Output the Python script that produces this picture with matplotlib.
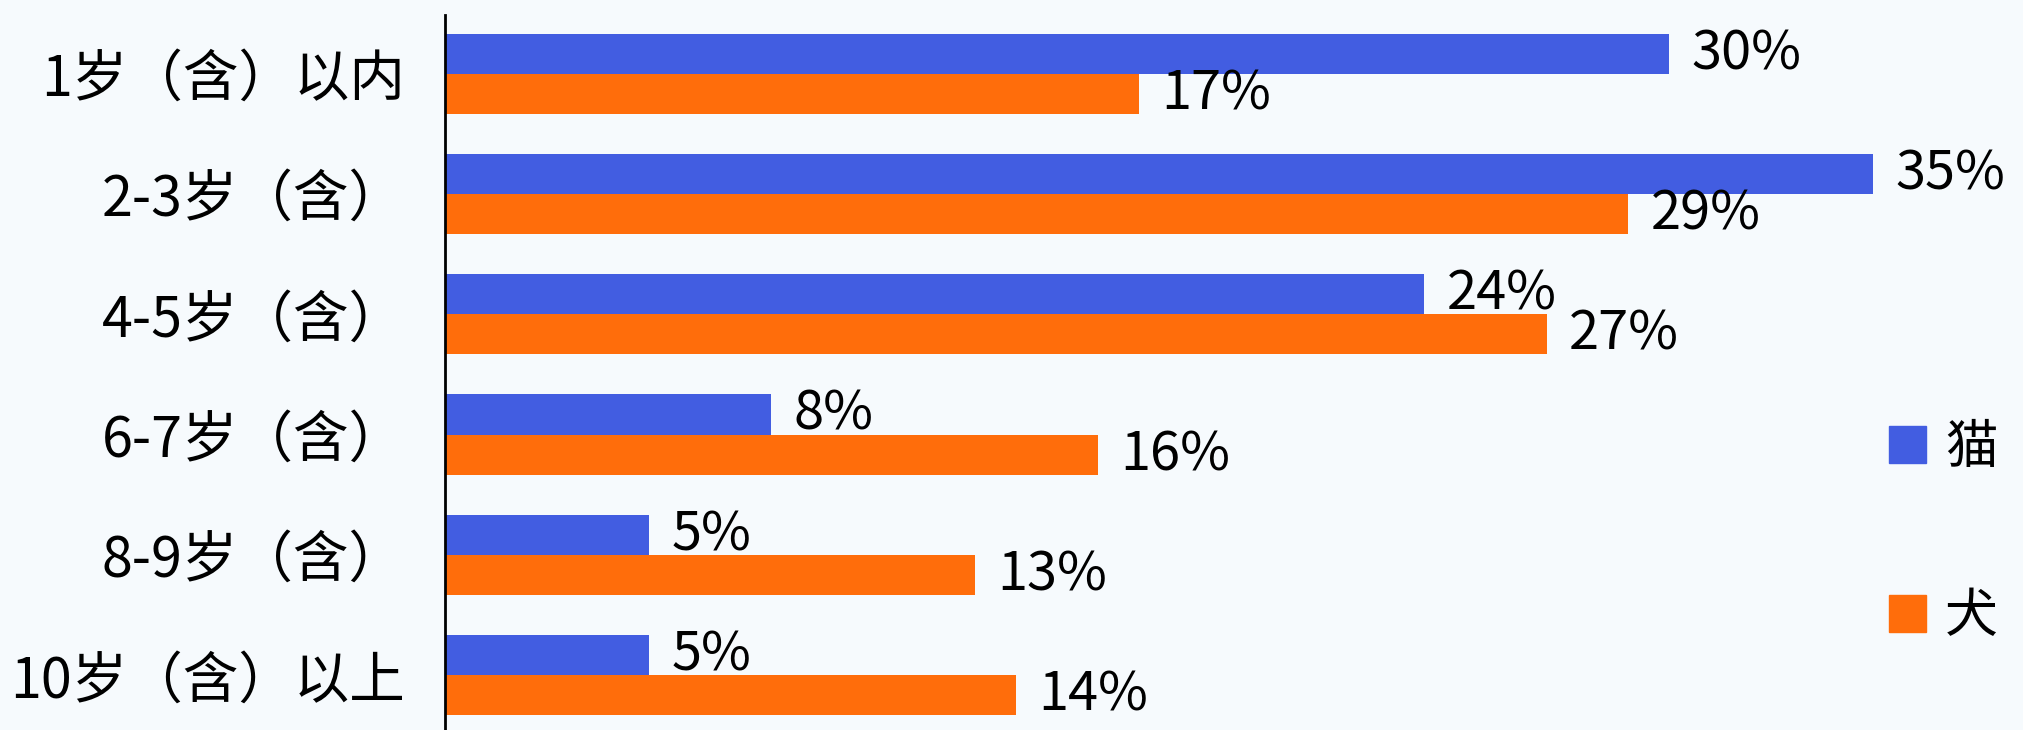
import matplotlib
matplotlib.use("Agg")
import matplotlib.pyplot as plt
from matplotlib.patches import Patch

plt.rcParams['font.family'] = ['Noto Sans CJK SC', 'DejaVu Sans']
plt.rcParams['font.weight'] = 'medium'

categories = ['1岁（含）以内', '2-3岁（含）', '4-5岁（含）', '6-7岁（含）', '8-9岁（含）', '10岁（含）以上']
cat_share = [30, 35, 24, 8, 5, 5]
dog_share = [17, 29, 27, 16, 13, 14]
series_names = ['猫', '犬']

cat_color = '#425DE1'
dog_color = '#FF6D0B'
bg_color = '#F6FAFD'

fig = plt.figure(figsize=(20.24, 7.3), dpi=100, facecolor=bg_color)
ax = fig.add_axes([445 / 2024, 0, 1 - 445 / 2024, 715 / 730])
ax.set_facecolor(bg_color)

bar_h = 0.333
ypos = list(range(len(categories)))
cat_y = [y - bar_h / 2 for y in ypos]
dog_y = [y + bar_h / 2 for y in ypos]

ax.barh(cat_y, cat_share, height=bar_h, color=cat_color)
ax.barh(dog_y, dog_share, height=bar_h, color=dog_color)

# percentage labels just past the bar ends
for y, v in zip(cat_y, cat_share):
    ax.annotate(f'{v}%', (v, y), xytext=(16, 0), textcoords='offset points',
                va='center', ha='left', fontsize=39, color='black')
for y, v in zip(dog_y, dog_share):
    ax.annotate(f'{v}%', (v, y), xytext=(16, 0), textcoords='offset points',
                va='center', ha='left', fontsize=39, color='black')

ax.set_xlim(0, 38.7)
ax.set_ylim(5.456, -0.487)
ax.set_yticks(ypos)
ax.set_yticklabels(categories, fontsize=40)
ax.tick_params(axis='y', length=0, pad=29)
ax.set_xticks([])

for side in ['top', 'right', 'bottom']:
    ax.spines[side].set_visible(False)
ax.spines['left'].set_linewidth(2)
ax.spines['left'].set_color('black')

handles = [Patch(color=cat_color, label=series_names[0]),
           Patch(color=dog_color, label=series_names[1])]
fig.legend(handles=handles, loc='center left', bbox_to_anchor=(1842 / 2024, 1 - 532 / 730),
           frameon=False, fontsize=38, handlelength=0.7, handleheight=0.7,
           handletextpad=0.35, labelspacing=2.15)

fig.savefig('out.png', dpi=100, facecolor=bg_color)
